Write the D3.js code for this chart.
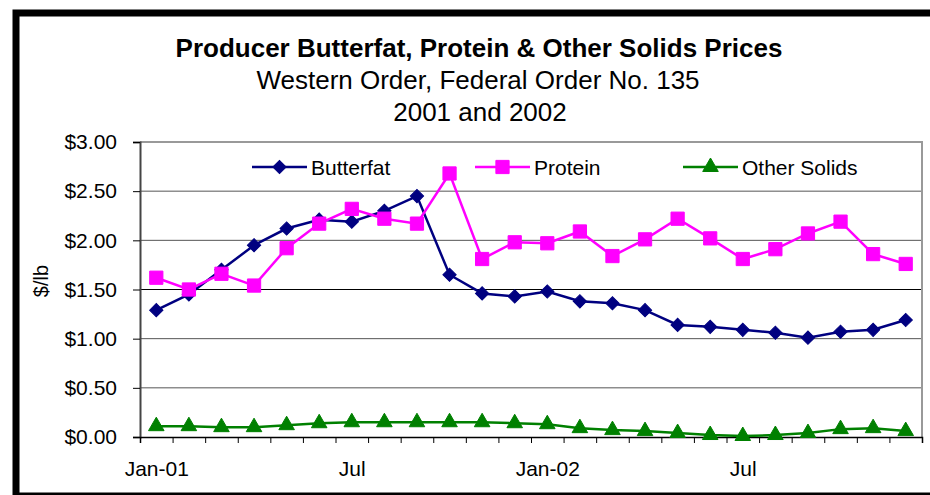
<!DOCTYPE html>
<html>
<head>
<meta charset="utf-8">
<script src="https://cdn.jsdelivr.net/npm/d3@7"></script>
<style>
  body { margin: 0; background: #fff; }
  svg { display: block; font-family: Arial, "Liberation Sans", sans-serif; }
</style>
</head>
<body>
<div id="chart"></div>
<script>
// Monthly prices, Jan 2001 - Dec 2002 ($/lb)
const months = ['Jan-01','Feb-01','Mar-01','Apr-01','May-01','Jun-01','Jul-01','Aug-01','Sep-01','Oct-01','Nov-01','Dec-01',
                'Jan-02','Feb-02','Mar-02','Apr-02','May-02','Jun-02','Jul-02','Aug-02','Sep-02','Oct-02','Nov-02','Dec-02'];
const butterfat = [1.29, 1.45, 1.70, 1.95, 2.12, 2.21, 2.19, 2.30, 2.45, 1.65, 1.46, 1.43,
                   1.48, 1.38, 1.36, 1.29, 1.14, 1.12, 1.09, 1.06, 1.01, 1.07, 1.09, 1.19];
const protein = [1.62, 1.50, 1.66, 1.54, 1.92, 2.17, 2.32, 2.22, 2.17, 2.68, 1.81, 1.98,
                 1.97, 2.09, 1.84, 2.01, 2.22, 2.02, 1.81, 1.91, 2.07, 2.19, 1.86, 1.76];
const otherSolids = [0.11, 0.11, 0.10, 0.10, 0.12, 0.14, 0.15, 0.15, 0.15, 0.15, 0.15, 0.14,
                     0.13, 0.09, 0.07, 0.06, 0.04, 0.02, 0.01, 0.02, 0.04, 0.08, 0.09, 0.06];
const xTickIdx = [0, 6, 12, 18];
const xTickLabels = ['Jan-01', 'Jul', 'Jan-02', 'Jul'];
const yTicks = [0, 0.5, 1.0, 1.5, 2.0, 2.5, 3.0];

const w = 930, h = 495;
const plot = { left: 140, right: 922, top: 142, bottom: 437 };
const font = 'Arial, "Liberation Sans", sans-serif';

const svg = d3.select('#chart').append('svg')
  .attr('width', w)
  .attr('height', h);

// outer frame
svg.append('rect')
  .attr('x', 16).attr('y', 13)
  .attr('width', 940).attr('height', 483)
  .attr('fill', 'none')
  .attr('stroke', '#000')
  .attr('stroke-width', 7);

// titles
svg.append('text')
  .attr('x', 479).attr('y', 57)
  .attr('text-anchor', 'middle')
  .attr('font-size', '26px')
  .attr('font-weight', 'bold')
  .text('Producer Butterfat, Protein & Other Solids Prices');
svg.append('text')
  .attr('x', 478).attr('y', 89)
  .attr('text-anchor', 'middle')
  .attr('font-size', '26px')
  .text('Western Order, Federal Order No. 135');
svg.append('text')
  .attr('x', 480).attr('y', 121)
  .attr('text-anchor', 'middle')
  .attr('font-size', '26px')
  .text('2001 and 2002');

// scales
const xEdge = d3.scaleLinear().domain([0, months.length]).range([plot.left, plot.right]);
const xPos = i => xEdge(i + 0.5);
const yScale = d3.scaleLinear().domain([0, 3]).range([plot.bottom, plot.top]);

// gridlines
svg.append('g')
  .selectAll('line')
  .data(yTicks.filter(d => d > 0 && d < 3))
  .enter()
  .append('line')
  .attr('x1', plot.left).attr('x2', plot.right)
  .attr('y1', d => yScale(d)).attr('y2', d => yScale(d))
  .attr('stroke', d => d === 1.5 ? '#000' : '#555')
  .attr('stroke-width', 1);

// plot border top & right
svg.append('path')
  .attr('d', `M${plot.left},${yScale(3)}H${plot.right}V${plot.bottom}`)
  .attr('fill', 'none')
  .attr('stroke', '#999')
  .attr('stroke-width', 2);

// y axis
const yAxis = d3.axisLeft(yScale)
  .tickValues(yTicks)
  .tickSize(7)
  .tickPadding(16)
  .tickFormat(d => '$' + d.toFixed(2));
const gy = svg.append('g')
  .attr('transform', `translate(${plot.left},0)`)
  .call(yAxis);
gy.select('.domain').attr('stroke', '#444').attr('stroke-width', 2);
gy.selectAll('.tick line').attr('stroke', '#000');
gy.selectAll('text').attr('font-size', '21px').attr('fill', '#000').attr('font-family', font);

// x axis ticks at category edges
const xTicksAxis = d3.axisBottom(xEdge)
  .tickValues(d3.range(months.length + 1))
  .tickSize(6)
  .tickFormat('');
const gx = svg.append('g')
  .attr('transform', `translate(0,${plot.bottom})`)
  .call(xTicksAxis);
gx.select('.domain').attr('stroke', '#000').attr('stroke-width', 1.5);
gx.selectAll('.tick line').attr('stroke', '#000');

// x labels
const xLabelAxis = d3.axisBottom(xEdge)
  .tickValues(xTickIdx.map(i => i + 0.5))
  .tickSize(0)
  .tickPadding(24)
  .tickFormat((d, i) => xTickLabels[i]);
const gxl = svg.append('g')
  .attr('transform', `translate(0,${plot.bottom})`)
  .call(xLabelAxis);
gxl.select('.domain').remove();
gxl.selectAll('text').attr('font-size', '21px').attr('fill', '#000').attr('font-family', font);

// y axis title
svg.append('text')
  .attr('transform', `translate(48,281) rotate(-90)`)
  .attr('text-anchor', 'middle')
  .attr('font-size', '20px')
  .text('$/lb');

// series (diamond = square turned 45 degrees)
const series = [
  { name: 'Butterfat', values: butterfat, color: '#000080', symbol: d3.symbolSquare, size: 88, rot: 45, legendX: 252 },
  { name: 'Protein', values: protein, color: '#FF00FF', symbol: d3.symbolSquare, size: 175, rot: 0, legendX: 475 },
  { name: 'Other Solids', values: otherSolids, color: '#008000', symbol: d3.symbolTriangle, size: 105, rot: 0, legendX: 683 }
];

const line = d3.line()
  .x((d, i) => xPos(i))
  .y(d => yScale(d));

series.forEach(s => {
  svg.append('path')
    .datum(s.values)
    .attr('d', line)
    .attr('fill', 'none')
    .attr('stroke', s.color)
    .attr('stroke-width', 2.5);

  svg.append('g')
    .selectAll('path')
    .data(s.values)
    .enter()
    .append('path')
    .attr('transform', (d, i) => `translate(${xPos(i)},${yScale(d)}) rotate(${s.rot})`)
    .attr('d', d3.symbol().type(s.symbol).size(s.size))
    .attr('fill', s.color)
    .attr('stroke', s.color)
    .attr('stroke-width', 1);
});

// legend
const legendY = 167;
series.forEach(s => {
  const g = svg.append('g');
  g.append('line')
    .attr('x1', s.legendX).attr('x2', s.legendX + 55)
    .attr('y1', legendY).attr('y2', legendY)
    .attr('stroke', s.color)
    .attr('stroke-width', 2.5);
  g.append('path')
    .attr('transform', `translate(${s.legendX + 27.5},${legendY}) rotate(${s.rot})`)
    .attr('d', d3.symbol().type(s.symbol).size(s.size))
    .attr('fill', s.color)
    .attr('stroke', s.color)
    .attr('stroke-width', 1);
  g.append('text')
    .attr('x', s.legendX + 59)
    .attr('y', legendY + 8)
    .attr('font-size', '21px')
    .text(s.name);
});
</script>
</body>
</html>
